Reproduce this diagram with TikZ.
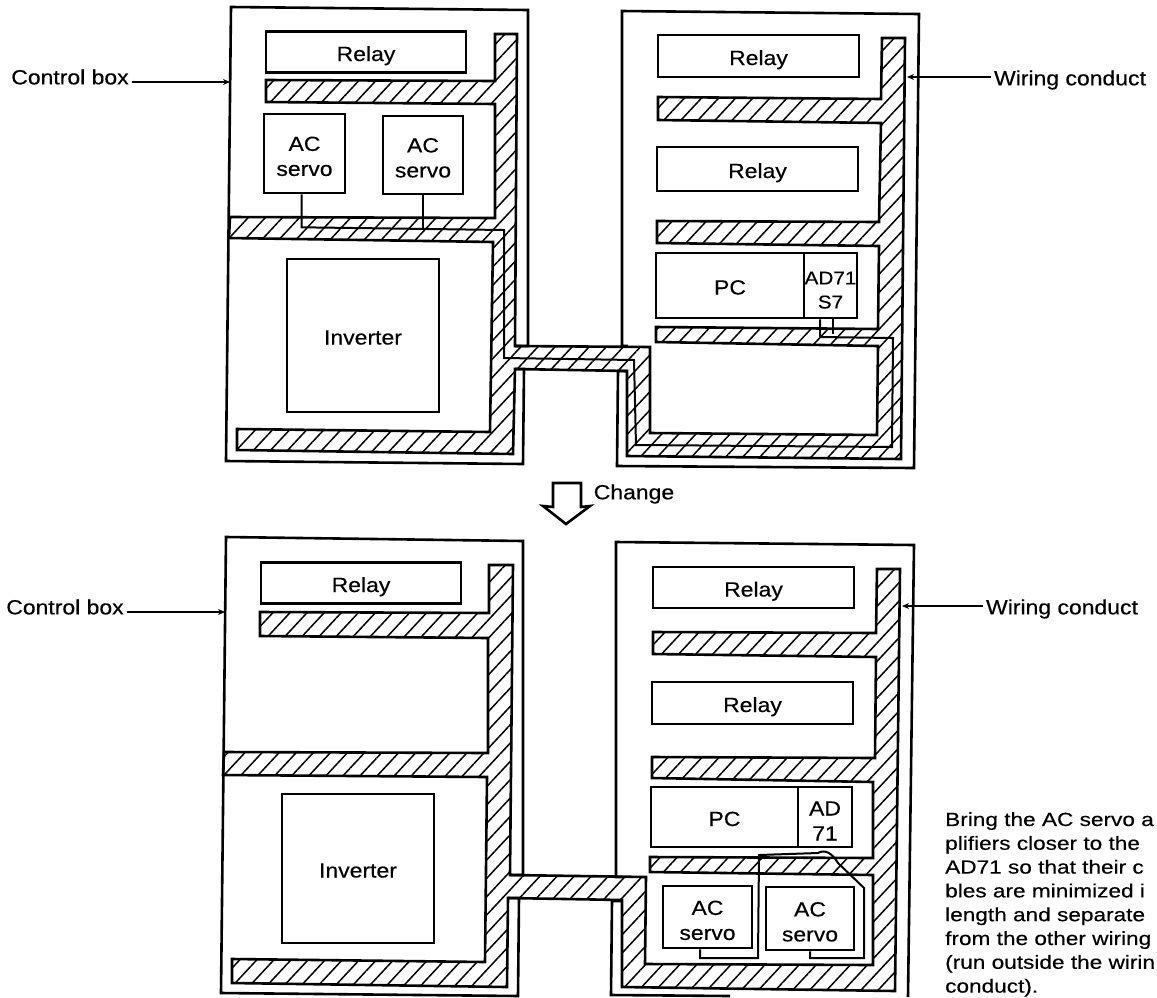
\documentclass[tikz,border=0pt]{standalone}
\usepackage{fontspec}
\setmainfont{Liberation Sans}[FakeStretch=1.12, FakeBold=0.4]
\newfontfamily\notefont{Liberation Sans}[FakeStretch=1.19, FakeBold=0.4]
\usetikzlibrary{positioning, arrows.meta, calc, patterns.meta}
\tikzset{
  unitbox/.style={draw, line width=2.6pt, inner sep=0pt, align=center, font=\fontsize{20.5}{25}\selectfont},
  oneline/.style={text height=18pt, text depth=0pt},
  plainlabel/.style={inner sep=3pt, font=\fontsize{20.5}{25}\selectfont},
  cabinet/.style={line width=2.6pt, line join=miter},
  duct/.style={line width=2.6pt, line join=miter, pattern={Lines[angle=47, distance=12.5pt, line width=1.5pt]}},
  wire/.style={line width=2pt, line join=miter},
  leader/.style={->, >={Stealth[length=7pt, width=6pt]}, line width=1.6pt}
}

\begin{document}
\begin{tikzpicture}[x=1pt, y=-1pt]
    \useasboundingbox (0,0) rectangle (1157,997);

    %% upper cabinets
    \draw[cabinet] (515,346) -- (528,346) -- (528,10) -- (231,7) -- (226,461) -- (523,464) -- (524,369) -- (515,369);
    \draw[cabinet] (628,346) -- (622,346) -- (622,11) -- (919,14) -- (914,468) -- (617,466) -- (618,371) -- (627,371);
    \draw[duct] (495,34) -- (517,34) -- (515,346) -- (650,347) -- (650,433) -- (877,435) -- (878,346)
                -- (656,342) -- (656,327) -- (878,329) -- (879,246) -- (657,243) -- (657,221)
                -- (879,222) -- (881,123) -- (658,120) -- (658,97) -- (881,99) -- (882,38)
                -- (905,38) -- (901,459) -- (627,456) -- (627,371) -- (515,369) -- (513,454)
                -- (237,450) -- (237,429) -- (490,432) -- (493,242) -- (229,238) -- (230,217)
                -- (495,218) -- (495,104) -- (266,102) -- (266,80) -- (495,81) -- cycle;

    \node[unitbox, oneline, minimum width=200pt, minimum height=41pt] (relayA) at (366,52) {Relay};
    \node[unitbox, minimum width=81pt,  minimum height=79pt] (acA)    at (304.5,153.5) {\rule{0pt}{20pt}AC\\servo};
    \node[unitbox, minimum width=80pt,  minimum height=78pt] (acB)    at (423,155) {\rule{0pt}{20pt}AC\\servo};
    \node[unitbox, oneline, minimum width=152pt, minimum height=153pt] (invA)  at (363,335.5) {Inverter};
    \node[unitbox, oneline, minimum width=201pt, minimum height=42pt] (relayB) at (758.5,56) {Relay};
    \node[unitbox, oneline, minimum width=201pt, minimum height=44pt] (relayC) at (757.5,169) {Relay};
    \node[unitbox, oneline, minimum width=148pt, minimum height=65pt] (pcA)    at (730,285.5) {PC};
    \node[unitbox, minimum width=53pt,  minimum height=65pt, font=\fontsize{18.5}{24}\selectfont] (adA) at (830.5,285.5) {\rule{0pt}{22pt}AD71\\S7};

    %% servo cable run through the upper duct
    \coordinate (runA) at (504,230);
    \coordinate (runB) at (504,358);
    \coordinate (runC) at (634,360);
    \coordinate (runD) at (636,445);
    \coordinate (runE) at (892,447);
    \coordinate (runF) at (893,338);
    \coordinate (runG) at (820,337);
    \draw[wire] ([xshift=-3pt]acA.south) -- ++(0,33) -- (runA) -- (runB) -- (runC) -- (runD) -- (runE) -- (runF) -- (runG) -- ([xshift=-10.5pt]adA.south);
    \draw[wire] (acB.south) -- ++(0,35);
    \draw[wire] ([xshift=2.5pt]adA.south) -- ++(0,15);

    \node[plainlabel] (ctrlA) at (70,77) {Control box};
    \coordinate (ctrlAtip) at (230,82);
    \draw[leader] ([yshift=-5pt]ctrlA.east) -- (ctrlAtip);
    \node[plainlabel] (condA) at (1070,80) {Wiring conduct};
    \coordinate (condAtip) at (907,77);
    \draw[leader] ([yshift=3pt]condA.west) -- (condAtip);

    %% change arrow
    \draw[line width=2.6pt, line join=miter] (553,483) -- (581,483) -- (581,507) -- (590,506) -- (566,524)
                -- (543,506) -- (553,507) -- cycle;
    \node[plainlabel] (change) at (634,494) {Change};

    %% lower cabinets
    \draw[cabinet] (510,875) -- (523,875) -- (523,541) -- (226,537) -- (221,993) -- (518,996) -- (519,898) -- (508,898);
    \draw[cabinet] (622,877) -- (616,877) -- (616,542) -- (914,545) -- (908,997);
    \draw[cabinet] (622,901) -- (612,901) -- (611,995) -- (730,996);
    \draw[duct] (489,565) -- (513,565) -- (510,875) -- (646,877) -- (645,964) -- (873,965) -- (873,875)
                -- (650,872) -- (650,857) -- (873,858) -- (873,782) -- (652,778) -- (652,757)
                -- (875,758) -- (876,657) -- (653,654) -- (653,632) -- (876,633) -- (877,569)
                -- (900,569) -- (895,991) -- (622,987) -- (622,900) -- (508,898) -- (507,987)
                -- (232,983) -- (232,959) -- (485,962) -- (487,777) -- (223,775) -- (224,752)
                -- (488,753) -- (488,638) -- (260,636) -- (260,612) -- (489,613) -- cycle;

    \node[unitbox, oneline, minimum width=200pt, minimum height=41pt] (relayD) at (361,583) {Relay};
    \node[unitbox, oneline, minimum width=152pt, minimum height=149pt] (invB)  at (358,868.5) {Inverter};
    \node[unitbox, oneline, minimum width=201pt, minimum height=41pt] (relayE) at (753.5,587.5) {Relay};
    \node[unitbox, oneline, minimum width=201pt, minimum height=42pt] (relayF) at (752.5,703) {Relay};
    \node[unitbox, oneline, minimum width=147pt, minimum height=60pt] (pcB)    at (724.5,817) {PC};
    \node[unitbox, minimum width=54pt,  minimum height=60pt] (adB)    at (825,817) {\rule{0pt}{22pt}AD\\71};
    \node[unitbox, minimum width=89pt,  minimum height=62pt] (acC)    at (707.5,917) {\rule{0pt}{21pt}AC\\servo};
    \node[unitbox, minimum width=88pt,  minimum height=63pt] (acD)    at (810,918.5) {\rule{0pt}{21pt}AC\\servo};

    %% servo cable between the two lower amplifiers
    \coordinate (tieA) at (810,958);
    \coordinate (tieB) at (864,958);
    \coordinate (tieC) at (864,888);
    \coordinate (tieD) at (838,863);
    \coordinate (tieE) at (818,853);
    \coordinate (tieF) at (759,855);
    \coordinate (tieG) at (758,958);
    \coordinate (tieH) at (700,958);
    \draw[wire] (acD.south) -- (tieA) -- (tieB) -- (tieC) -- (tieD)
                .. controls (832,853) and (825,849) .. (tieE)
                -- (tieF) -- (tieG) -- (tieH) -- ([xshift=-7.5pt]acC.south);

    \node[plainlabel] (ctrlB) at (65,607) {Control box};
    \coordinate (ctrlBtip) at (225,612);
    \draw[leader] ([yshift=-5pt]ctrlB.east) -- (ctrlBtip);
    \node[plainlabel] (condB) at (1062,609) {Wiring conduct};
    \coordinate (condBtip) at (902,606);
    \draw[leader] ([yshift=3pt]condB.west) -- (condBtip);

    \node[anchor=north west, inner sep=0pt, align=left, font=\notefont\fontsize{19}{23.8}\selectfont] (note) at (945,812)
      {Bring the AC servo a\\plifiers closer to the\\AD71 so that their c\\bles are minimized i\\length and separate\\from the other wiring\\(run outside the wirin\\conduct).};
\end{tikzpicture}
\end{document}
